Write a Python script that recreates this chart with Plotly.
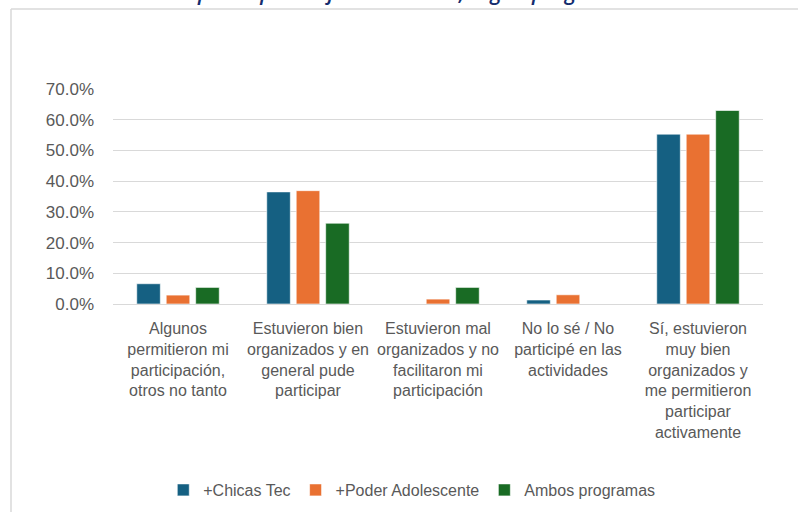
import plotly.graph_objects as go

categories = [
    "Algunos<br>permitieron mi<br>participación,<br>otros no tanto",
    "Estuvieron bien<br>organizados y en<br>general pude<br>participar",
    "Estuvieron mal<br>organizados y no<br>facilitaron mi<br>participación",
    "No lo sé / No<br>participé en las<br>actividades",
    "Sí, estuvieron<br>muy bien<br>organizados y<br>me permitieron<br>participar<br>activamente",
]
series_names = ["+Chicas Tec", "+Poder Adolescente", "Ambos programas"]
chicas_tec = [0.066, 0.365, 0.0, 0.013, 0.553]
poder_adolescente = [0.029, 0.369, 0.016, 0.030, 0.553]
ambos = [0.054, 0.263, 0.054, 0.0, 0.630]
colors = ["#156082", "#E97132", "#196B24"]

W, H = 798, 512
L, R, T, B = 113, 35, 89, 208
pw, ph = W - L - R, H - T - B

def px(x):
    return (x - L) / pw

def py(y):
    return (H - B - y) / ph

fig = go.Figure()
for name, vals, c in zip(series_names, [chicas_tec, poder_adolescente, ambos], colors):
    fig.add_trace(go.Bar(
        x=categories, y=vals, name=name,
        marker=dict(color=c, line=dict(color="rgba(255,255,255,0.6)", width=1)),
    ))

font_family = "Liberation Sans, Arial, sans-serif"
fig.update_layout(
    width=W, height=H,
    margin=dict(l=L, r=R, t=T, b=B, pad=0),
    paper_bgcolor="white", plot_bgcolor="white",
    barmode="group", bargap=0.32, bargroupgap=0.2,
    font=dict(family=font_family, color="#595959", size=16),
    showlegend=True,
    legend=dict(
        orientation="h", xref="container", yref="container",
        x=0.516, xanchor="center", y=1 - 490 / 512, yanchor="middle",
        font=dict(size=16, color="#595959"),
        traceorder="normal",
    ),
    yaxis=dict(
        range=[0, 0.70], dtick=0.1, tickformat=".1%",
        showgrid=True, gridcolor="#d9d9d9", gridwidth=1,
        zeroline=True, zerolinecolor="#d9d9d9", zerolinewidth=1,
        showline=False, ticks="", ticklen=0,
        tickfont=dict(size=17, color="#595959"),
        ticklabelstandoff=18,
    ),
    xaxis=dict(
        showline=False, ticks="", showgrid=False,
        tickfont=dict(size=16, color="#595959"),
        tickangle=0, ticklabelstandoff=13,
    ),
    shapes=[
        dict(type="line", xref="paper", yref="paper",
             x0=px(11), x1=px(830), y0=py(9), y1=py(9),
             line=dict(color="#d9d9d9", width=1.5)),
        dict(type="line", xref="paper", yref="paper",
             x0=px(11), x1=px(11), y0=py(9), y1=py(540),
             line=dict(color="#d9d9d9", width=1.5)),
    ],
    annotations=[
        dict(text="participar de forma activa?, según programa",
             xref="paper", yref="paper", x=px(412), y=py(12),
             xanchor="center", yanchor="bottom", yshift=4, showarrow=False,
             font=dict(family="Open Sans, sans-serif", size=21, color="#142D6E",
                       style="italic", weight=600)),
    ],
)

fig.write_html(
    "out.html",
    config={"displayModeBar": False},
    post_script="document.body.style.margin='0';document.body.style.overflow='hidden';",
)
